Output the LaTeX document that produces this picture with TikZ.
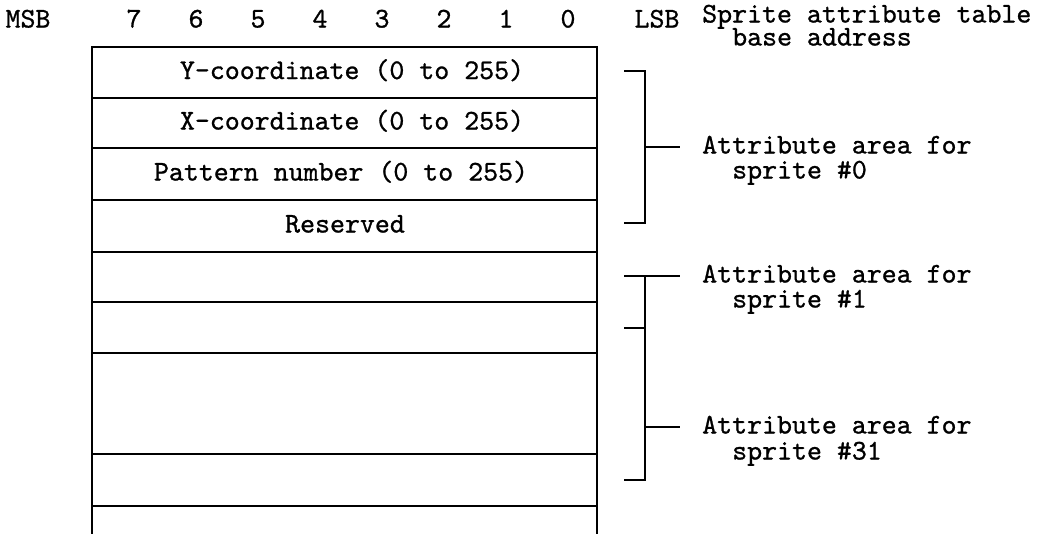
\documentclass[tikz,border=0pt]{standalone}
\usepackage{fontspec}
\newfontfamily\typefont[FakeBold=0.9]{lmmono10-regular.otf}
\usetikzlibrary{positioning}
\tikzset{
    every picture/.style={line join=miter},
    frame/.style={draw=black,line width=2.6pt,line cap=rect},
    bracket/.style={draw=black,line width=2.6pt,line cap=butt},
    bittext/.style={font=\typefont\fontsize{28.5}{28.5}\selectfont,inner sep=0pt,
      text height=18pt,text depth=5pt},
    fieldtext/.style={font=\typefont\fontsize{28.5}{28.5}\selectfont,inner sep=0pt,
      text height=18pt,text depth=5pt},
    lbltext/.style={font=\typefont\fontsize{28.5}{25}\selectfont,inner sep=0pt,
      align=left,anchor=base west},
}
\newcommand{\indentlbl}{\hspace*{30pt}}

\begin{document}
\begin{tikzpicture}[x=1pt,y=-1pt]
  \useasboundingbox (0,0) rectangle (1040,533);
  % bit numbers
  \node[bittext] (msb) at (28,21) {MSB};
  \foreach \b in {0,...,7} {
    \node[bittext] (b\b) at ({568-62*\b},21) {\b};
  }
  \node[bittext] (lsb) at (657,21) {LSB};
  % attribute table
  \draw[frame] (92,533) |- (597,47) -- (597,533);
  \foreach \y in {98,148,200,252,302,353,454,506}
    \draw[frame] (92,\y) -- (597,\y);
  \node[fieldtext] (ycoord) at (352,72.5) {Y-coordinate (0 to 255)};
  \node[fieldtext] (xcoord) at (352,123) {X-coordinate (0 to 255)};
  \node[fieldtext] (patnum) at (341,174) {Pattern number (0 to 255)};
  \node[fieldtext] (resvd) at (345,226) {Reserved};
  % labels (base anchor sits on the last line)
  \node[lbltext] (baselbl) at (702,45.5) {Sprite attribute table\\[-2pt]\indentlbl base address};
  \node[lbltext] (spr0) at (702,178.5) {Attribute area for\\\indentlbl sprite \#0};
  \node[lbltext] (spr1) at (702,307.5) {Attribute area for\\\indentlbl sprite \#1};
  \node[lbltext] (spr31) at (702,459.5) {Attribute area for\\[1pt]\indentlbl sprite \#31};
  % brackets
  \coordinate (k0t) at (624,71);
  \coordinate (k0b) at (624,223);
  \coordinate (k0m) at (645,147);
  \coordinate (k0e) at (680,147);
  \draw[bracket] (k0t) -| (k0m) |- (k0b);
  \draw[bracket] (k0m) -- (k0e);
  \coordinate (k1t) at (624,276);
  \coordinate (k1e) at (680,276);
  \coordinate (k1s) at (624,328);
  \coordinate (k31m) at (645,427);
  \coordinate (k31e) at (680,427);
  \coordinate (k31b) at (624,480);
  \draw[bracket] (k1t) -- (k1e);
  \draw[bracket] (k1t -| k31m) |- (k31b);
  \draw[bracket] (k1s) -- (k1s -| k31m);
  \draw[bracket] (k31m) -- (k31e);
\end{tikzpicture}
\end{document}
